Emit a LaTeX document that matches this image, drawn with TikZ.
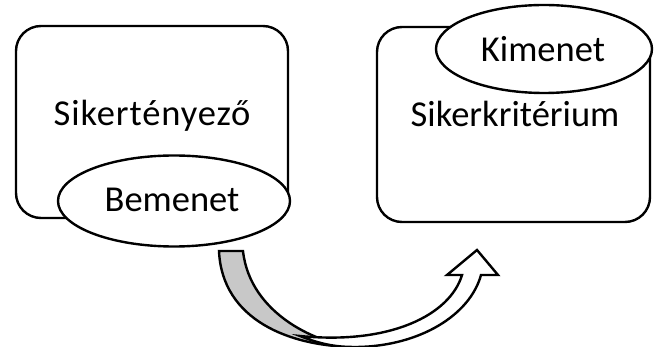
\documentclass[tikz,border=0pt]{standalone}
\usepackage{fontspec}
\setmainfont{Carlito}
\usetikzlibrary{shapes.geometric}
\definecolor{backface}{RGB}{200,200,200}
\tikzset{
  outline/.style={draw=black, line width=2.4pt},
  panel/.style={outline, fill=white, rounded corners=25pt},
  oval/.style={outline, fill=white, ellipse, inner sep=0pt},
  label/.style={font=\fontsize{36.5}{44}\selectfont, inner sep=0pt, anchor=base},
  ribbon/.style={outline, line join=miter}
}
\begin{document}
\begin{tikzpicture}[x=1pt, y=-1pt]
  \useasboundingbox (0,0) rectangle (656,347);

  % left panel with its input oval
  \node[panel, minimum width=272pt, minimum height=192pt] (lbox) at (152,122) {};
  \node[label] (ltext) at (152,126) {\addfontfeature{LetterSpace=2.5}Sikertényező};
  \node[oval, minimum width=232pt, minimum height=91pt] (inp) at (174,201) {};
  \node[label] (inptext) at (172,212) {Bemenet};

  % right panel with its output oval
  \node[panel, minimum width=273pt, minimum height=195pt] (rbox) at (513.5,124.5) {};
  \node[label] (rtext) at (515,127) {Sikerkritérium};
  \node[oval, minimum width=216pt, minimum height=88pt] (outp) at (544,49) {};
  \node[label] (outptext) at (543,62) {Kimenet};

  % curved arrow: shaded back face of the tail
  \coordinate (tailL) at (219,251);
  \coordinate (tailR) at (243,251);
  \coordinate (bottom) at (357,347);
  \draw[ribbon, fill=backface]
    (tailL) -- (tailR)
    .. controls (250,315) and (320,345) .. (bottom)
    .. controls (290,347) and (222,320) .. (tailL) -- cycle;

  % curved arrow: front face rising to the head
  \coordinate (fold) at (300,336);
  \coordinate (shaftL) at (462,275);
  \coordinate (shaftR) at (481,275);
  \coordinate (headL) at (447,275);
  \coordinate (headR) at (498,275);
  \coordinate (tip) at (477,250);
  \draw[ribbon, fill=white]
    (fold) .. controls (325,346) and (340,347) .. (bottom)
    .. controls (420,346) and (470,315) .. (shaftR)
    -- (headR) -- (tip) -- (headL) -- (shaftL)
    .. controls (450,315) and (390,345) .. (fold) -- cycle;
\end{tikzpicture}
\end{document}
